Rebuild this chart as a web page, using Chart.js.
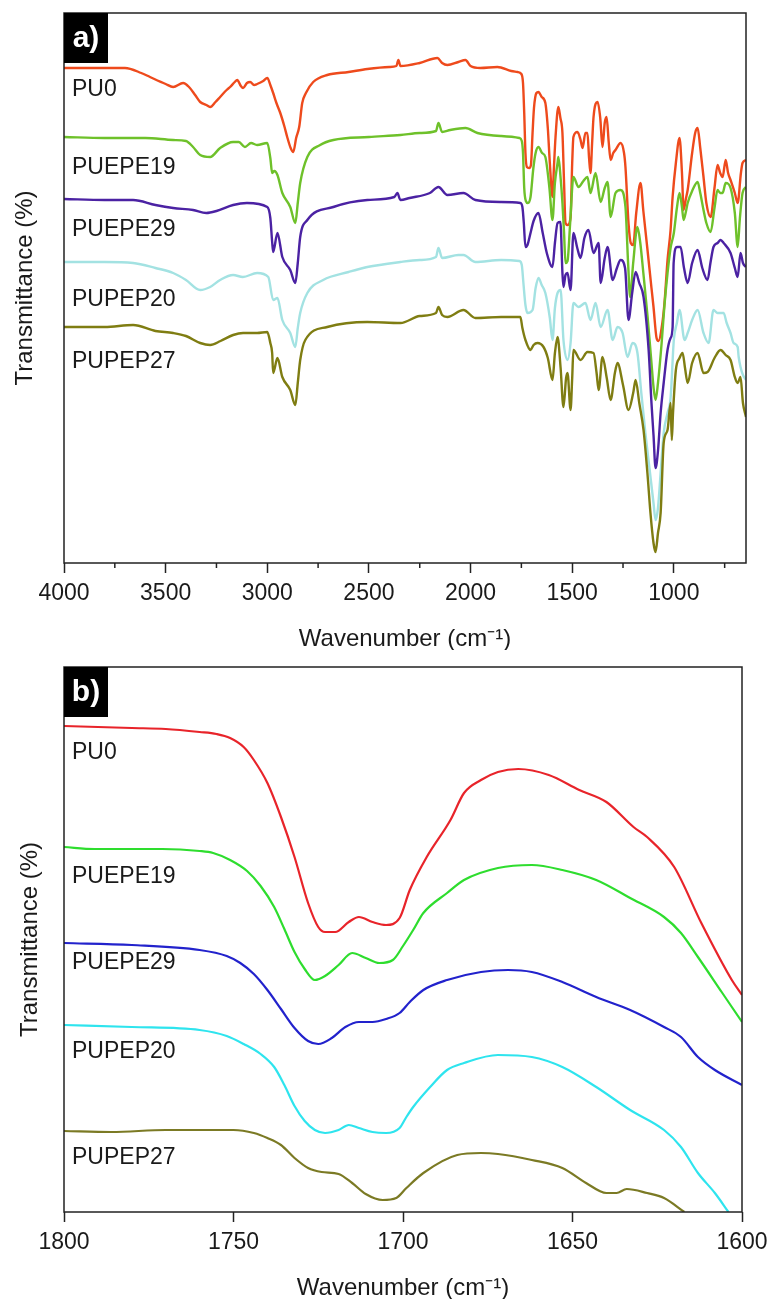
<!DOCTYPE html>
<html>
<head>
<meta charset="utf-8">
<script src="https://cdn.jsdelivr.net/npm/chart.js@4.4.1/dist/chart.umd.min.js"></script>
<style>
  body { margin: 0; background: #fff; }
  canvas { display: block; }
</style>
</head>
<body>
<canvas id="chartA" width="768" height="650"></canvas>
<canvas id="chartB" width="768" height="649"></canvas>
<script>
/* series names */
var names = ["PU0", "PUEPE19", "PUEPE29", "PUPEP20", "PUPEP27"];

/* tick labels */
var ticksA = [4000, 3500, 3000, 2500, 2000, 1500, 1000];
var minorA = [3750, 3250, 2750, 2250, 1750, 1250, 750];
var ticksB = [1800, 1750, 1700, 1650, 1600];

/* panel a) [wavenumber, transmittance a.u.] */
var pu0A = [[4000,495],[3850,495],[3700,495],[3620,490],[3577,486],[3500,479],[3463,476],[3414,480],[3385,476],[3355,468],[3330,461],[3300,458],[3281,456],[3255,461],[3232,466],[3200,473],[3183,476],[3160,481],[3148,483],[3130,477],[3119,475],[3100,480],[3084,481],[3065,478],[3050,479],[3020,482],[3000,485],[2985,478],[2971,470],[2955,460],[2936,450],[2915,436],[2902,426],[2885,415],[2872,411],[2858,425],[2843,436],[2828,460],[2810,470],[2774,481],[2705,488],[2600,491],[2508,494],[2400,496],[2365,497],[2355,503],[2345,497],[2250,500],[2163,505],[2140,500],[2114,498],[2060,501],[2025,503],[2000,497],[1952,495],[1868,496],[1800,492],[1769,491],[1750,489],[1742,480],[1736,450],[1730,410],[1723,396],[1712,395],[1703,398],[1695,430],[1688,455],[1676,470],[1666,471],[1650,466],[1632,460],[1620,435],[1610,400],[1597,366],[1590,395],[1582,426],[1568,456],[1558,445],[1548,430],[1540,380],[1533,340],[1522,338],[1508,346],[1500,400],[1494,426],[1474,431],[1460,424],[1449,415],[1435,430],[1425,430],[1417,405],[1410,390],[1402,420],[1395,446],[1375,461],[1362,445],[1351,416],[1340,440],[1331,446],[1320,420],[1311,403],[1298,410],[1287,413],[1262,420],[1245,410],[1238,396],[1223,340],[1212,320],[1200,318],[1185,350],[1164,380],[1150,352],[1129,312],[1110,275],[1100,256],[1085,225],[1075,222],[1060,235],[1046,260],[1031,303],[1016,333],[1006,366],[990,400],[972,425],[960,390],[952,353],[940,365],[932,373],[910,410],[895,430],[883,435],[870,415],[854,386],[840,360],[819,346],[800,375],[785,398],[772,390],[760,386],[745,403],[733,390],[721,383],[700,370],[686,360],[670,390],[662,400],[645,403]];

var pue19A = [[4000,426],[3800,425],[3700,425],[3600,425],[3463,423],[3400,422],[3365,416],[3330,408],[3281,406],[3232,415],[3168,421],[3140,421],[3110,416],[3080,420],[3050,418],[3000,420],[2985,405],[2976,390],[2965,392],[2950,388],[2926,370],[2887,356],[2862,340],[2850,360],[2838,380],[2803,406],[2740,418],[2675,423],[2500,426],[2345,428],[2250,430],[2170,432],[2158,440],[2140,431],[2100,433],[2025,435],[1966,430],[1850,427],[1760,425],[1748,422],[1742,410],[1736,375],[1728,362],[1718,360],[1705,366],[1691,395],[1680,410],[1666,416],[1648,410],[1632,406],[1612,375],[1597,343],[1585,380],[1572,400],[1568,406],[1557,385],[1548,360],[1540,330],[1533,300],[1523,302],[1510,340],[1494,386],[1469,376],[1445,382],[1425,386],[1410,370],[1385,390],[1360,361],[1340,375],[1326,381],[1311,346],[1287,370],[1262,373],[1238,356],[1225,300],[1215,266],[1200,300],[1179,336],[1165,320],[1150,290],[1129,246],[1110,200],[1100,176],[1090,163],[1078,180],[1060,220],[1046,258],[1031,290],[1016,315],[1000,330],[985,355],[972,370],[960,356],[952,343],[940,352],[932,360],[910,372],[883,381],[870,370],[854,353],[840,340],[819,331],[800,355],[785,373],[772,370],[760,370],[745,380],[721,375],[700,350],[686,316],[675,345],[662,370],[645,376]];

var pue29A = [[4000,364],[3800,363],[3660,363],[3550,358],[3463,355],[3365,353],[3300,350],[3250,352],[3168,358],[3100,360],[3000,356],[2985,345],[2976,321],[2971,311],[2950,330],[2926,306],[2887,293],[2862,280],[2850,300],[2838,326],[2803,343],[2675,356],[2508,363],[2375,366],[2360,370],[2345,363],[2300,365],[2200,370],[2158,376],[2114,368],[2035,370],[1976,363],[1850,361],[1755,360],[1745,356],[1738,340],[1730,316],[1720,318],[1705,330],[1690,342],[1666,350],[1645,330],[1625,310],[1597,296],[1585,320],[1572,340],[1558,341],[1548,290],[1543,276],[1533,288],[1523,290],[1508,273],[1494,330],[1475,315],[1459,305],[1440,325],[1420,333],[1395,310],[1370,320],[1360,280],[1340,305],[1326,316],[1301,283],[1280,295],[1262,303],[1240,295],[1223,243],[1205,270],[1188,291],[1170,280],[1149,266],[1124,213],[1110,160],[1100,128],[1090,95],[1078,112],[1065,150],[1050,180],[1031,213],[1016,225],[1006,236],[1001,300],[985,316],[967,316],[950,295],[932,280],[910,300],[883,313],[860,295],[834,283],[820,300],[805,316],[785,320],[770,323],[755,320],[721,310],[700,295],[686,286],[672,310],[660,300],[645,296]];

var pup20A = [[4000,301],[3800,301],[3660,300],[3550,295],[3463,290],[3400,283],[3330,273],[3281,276],[3232,283],[3168,288],[3120,286],[3050,290],[2995,286],[2971,263],[2950,265],[2926,243],[2887,230],[2862,216],[2850,235],[2838,250],[2803,270],[2725,283],[2600,291],[2508,296],[2345,301],[2250,303],[2170,306],[2158,315],[2140,305],[2060,308],[2035,308],[1976,301],[1850,303],[1760,302],[1748,298],[1740,280],[1730,258],[1720,250],[1695,253],[1680,275],[1666,285],[1650,278],[1632,270],[1610,245],[1597,223],[1585,255],[1572,270],[1557,273],[1543,223],[1523,203],[1508,220],[1494,260],[1469,256],[1435,260],[1410,243],[1385,260],[1360,236],[1326,253],[1301,223],[1277,236],[1252,230],[1228,206],[1203,220],[1179,210],[1160,170],[1140,130],[1120,95],[1100,60],[1090,43],[1078,55],[1065,90],[1050,130],[1031,150],[1016,165],[1000,223],[985,240],[972,253],[947,223],[932,230],[910,243],[883,253],[854,230],[829,220],[805,253],[785,250],[755,250],[740,240],[721,230],[706,220],[686,216],[681,206],[672,196],[660,188],[645,183]];

var pup27A = [[4000,236],[3800,236],[3660,238],[3550,232],[3463,230],[3400,227],[3330,220],[3281,218],[3230,222],[3168,228],[3119,230],[3050,230],[3000,231],[2985,220],[2976,210],[2971,190],[2950,205],[2926,186],[2887,173],[2862,158],[2850,180],[2838,203],[2813,223],[2705,236],[2508,241],[2345,240],[2250,247],[2170,250],[2158,256],[2140,248],[2114,246],[2035,253],[1976,245],[1850,246],[1755,246],[1745,235],[1730,223],[1705,213],[1690,218],[1671,220],[1641,216],[1620,205],[1597,183],[1585,210],[1572,226],[1557,195],[1543,156],[1530,185],[1523,190],[1508,153],[1500,185],[1494,213],[1459,203],[1425,211],[1395,210],[1380,190],[1370,173],[1351,206],[1330,185],[1311,163],[1290,190],[1277,200],[1250,178],[1223,153],[1200,170],[1188,183],[1170,160],[1149,133],[1130,90],[1115,50],[1100,20],[1090,11],[1078,30],[1065,50],[1050,120],[1031,133],[1016,160],[1010,123],[1004,150],[990,193],[972,205],[957,210],[945,195],[932,180],[910,200],[883,210],[854,190],[834,191],[800,205],[770,213],[745,208],[721,203],[700,186],[686,180],[672,186],[660,160],[645,146]];

/* panel b) carbonyl region */
var pu0B = [[1800,486],[1790,485],[1780,484],[1770,483],[1760,480],[1755,478],[1751,474],[1747,465],[1744,452],[1740,429],[1736,395],[1732,355],[1728,309],[1725,285],[1723,280],[1720,280],[1716,290],[1713,295],[1709,290],[1705,287],[1701,294],[1698,322],[1693,355],[1686,392],[1682,419],[1677,432],[1672,440],[1666,443],[1657,437],[1648,422],[1640,410],[1632,385],[1628,375],[1620,345],[1612,289],[1603,232],[1600,217]];
var pue19B = [[1800,365],[1791,363],[1780,363],[1771,363],[1760,361],[1756,359],[1751,352],[1746,341],[1742,326],[1738,305],[1735,283],[1732,260],[1729,243],[1726,232],[1723,236],[1719,247],[1715,259],[1711,254],[1707,249],[1703,252],[1700,266],[1697,282],[1694,299],[1687,319],[1682,332],[1672,344],[1662,347],[1653,342],[1643,332],[1633,314],[1623,295],[1618,279],[1613,255],[1606,220],[1600,190]];
var pue29B = [[1800,269],[1780,267],[1760,262],[1752,256],[1748,249],[1744,238],[1740,222],[1736,203],[1732,184],[1728,171],[1725,168],[1721,174],[1717,185],[1713,190],[1709,190],[1705,193],[1701,199],[1698,210],[1694,222],[1687,232],[1677,240],[1669,242],[1662,240],[1653,230],[1643,215],[1633,202],[1623,185],[1618,175],[1613,155],[1608,142],[1600,127]];
var pup20B = [[1800,187],[1780,185],[1760,182],[1752,176],[1747,168],[1742,158],[1738,145],[1735,127],[1732,106],[1729,91],[1726,82],[1723,79],[1719,82],[1716,87],[1713,84],[1709,80],[1705,79],[1701,84],[1699,95],[1697,105],[1692,125],[1687,142],[1682,149],[1672,157],[1662,155],[1653,145],[1643,125],[1633,102],[1623,82],[1618,65],[1613,39],[1608,19],[1604,0]];
var pup27B = [[1800,81],[1786,80],[1770,82],[1750,82],[1744,79],[1740,74],[1736,67],[1732,54],[1728,44],[1724,40],[1719,38],[1715,29],[1711,18],[1706,12],[1702,14],[1699,24],[1694,39],[1684,57],[1677,59],[1672,58],[1662,52],[1653,44],[1646,29],[1640,19],[1637,19],[1634,23],[1628,19],[1623,14],[1617,0]];

/* where the series names sit (transmittance a.u.) */
var nameYA = [473, 395, 333, 263, 201];
var nameYB = [459, 335, 249, 160, 54];

var coloursA = ["#ee4a1c", "#6ec12a", "#4b22a3", "#a3e2e2", "#7f7d12"];
var coloursB = ["#e8242a", "#2edd2e", "#2222cc", "#2ee4ee", "#7b7a24"];

var fam = "'Liberation Sans', Arial, sans-serif";
Chart.defaults.font.family = fam;
Chart.defaults.color = "#1a1a1a";

var decorPlugin = {
  id: "decor",
  afterDraw: function (chart) {
    var o = chart.options.plugins.decor;
    var ctx = chart.ctx, a = chart.chartArea;
    var sx = chart.scales.x, sy = chart.scales.y;
    ctx.save();
    ctx.strokeStyle = "#222";
    ctx.lineWidth = 1.5;
    // minor ticks
    o.minor.forEach(function (v) {
      var px = sx.getPixelForValue(v);
      ctx.beginPath();
      ctx.moveTo(px, a.bottom);
      ctx.lineTo(px, a.bottom + 5);
      ctx.stroke();
    });
    // frame
    ctx.strokeRect(a.left, a.top, a.right - a.left, a.bottom - a.top);
    // panel letter
    ctx.fillStyle = "#000";
    ctx.fillRect(a.left, a.top, 44, 50);
    ctx.fillStyle = "#fff";
    ctx.font = "bold 30px " + fam;
    ctx.textAlign = "center";
    ctx.textBaseline = "middle";
    ctx.fillText(o.letter, a.left + 22, a.top + 26);
    // series names
    ctx.fillStyle = "#1a1a1a";
    ctx.font = "23px " + fam;
    ctx.textAlign = "left";
    o.names.forEach(function (n, i) {
      ctx.fillText(n, a.left + 8, sy.getPixelForValue(o.nameY[i]));
    });
    ctx.restore();
  }
};

function toXY(arr) {
  return arr.map(function (p) { return {x: p[0], y: p[1]}; });
}

function makeChart(id, series, colours, cfg) {
  var datasets = series.map(function (s, i) {
    return {
      label: names[i],
      data: toXY(s),
      borderColor: colours[i],
      borderWidth: cfg.lineW,
      pointRadius: 0,
      fill: false,
      cubicInterpolationMode: "monotone",
      order: series.length - i
    };
  });
  return new Chart(document.getElementById(id), {
    type: "line",
    data: {datasets: datasets},
    plugins: [decorPlugin],
    options: {
      responsive: false,
      animation: false,
      events: [],
      layout: {padding: {top: cfg.padTop, right: cfg.padRight, left: 0, bottom: 0}},
      plugins: {
        legend: {display: false},
        tooltip: {enabled: false},
        decor: {letter: cfg.letter, minor: cfg.minor, names: names, nameY: cfg.nameY}
      },
      scales: {
        x: {
          type: "linear",
          reverse: true,
          min: cfg.xMin,
          max: cfg.xMax,
          afterBuildTicks: function (s) {
            s.ticks = cfg.ticks.map(function (v) { return {value: v}; });
          },
          afterFit: function (s) {
            s.height = 87;
            // let the layout padding alone decide the plot edges
            s.paddingLeft = 0;
            s.paddingRight = 0;
          },
          grid: {display: true, drawOnChartArea: false, drawTicks: true, tickLength: 10, tickColor: "#222", tickWidth: 1.5},
          border: {display: false},
          ticks: {
            autoSkip: false,
            maxRotation: 0,
            padding: 7,
            color: "#1a1a1a",
            font: {size: 23},
            callback: function (v) { return String(v); }
          },
          title: {
            display: true,
            text: "Wavenumber (cm\u207B\u00B9)",
            color: "#1a1a1a",
            font: {size: 24},
            padding: {top: 0, bottom: -4}
          }
        },
        y: {
          min: 0,
          max: cfg.yMax,
          afterFit: function (s) { s.width = 64; },
          grid: {display: false},
          border: {display: false},
          ticks: {display: false},
          title: {
            display: true,
            text: "Transmittance (%)",
            color: "#1a1a1a",
            font: {size: 24},
            padding: {top: cfg.yTitlePad, bottom: 0}
          }
        }
      }
    }
  });
}

makeChart("chartA", [pu0A, pue19A, pue29A, pup20A, pup27A], coloursA, {
  padTop: 13, padRight: 22, xMin: 645, xMax: 4000, yMax: 550, lineW: 2.4,
  ticks: ticksA, minor: minorA, letter: "a)", nameY: nameYA, yTitlePad: 11
});

makeChart("chartB", [pu0B, pue19B, pue29B, pup20B, pup27B], coloursB, {
  padTop: 17, padRight: 26, xMin: 1600, xMax: 1800, yMax: 545, lineW: 2.2,
  ticks: ticksB, minor: [], letter: "b)", nameY: nameYB, yTitlePad: 16
});
</script>
</body>
</html>
